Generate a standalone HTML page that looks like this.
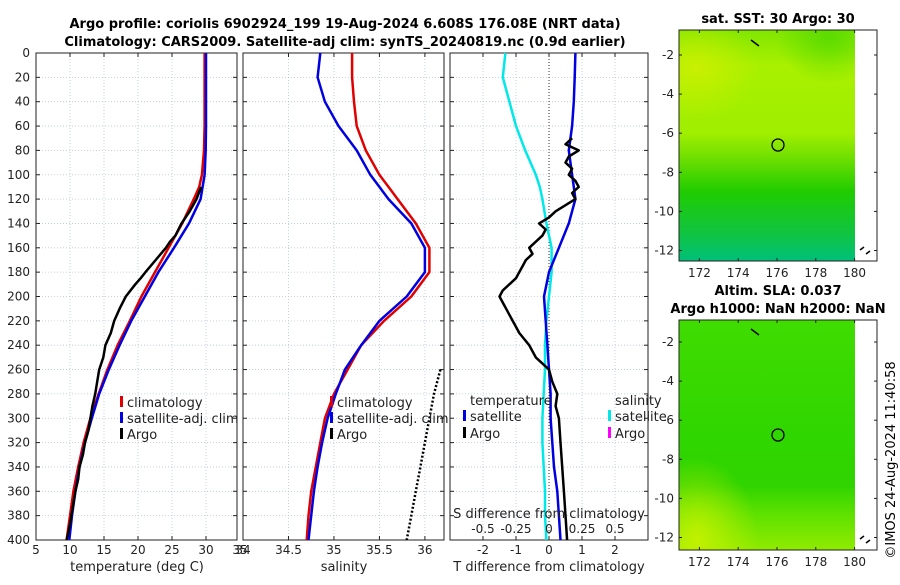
<!DOCTYPE html>
<html><head><meta charset="utf-8"><style>
body{margin:0;background:#fff;}
svg{font-family:"DejaVu Sans","Liberation Sans",sans-serif;}
</style></head><body>
<svg id="fig" width="900" height="580" viewBox="0 0 900 580" xmlns="http://www.w3.org/2000/svg">
<defs>
<linearGradient id="g1" x1="0" y1="0" x2="0" y2="1">
<stop offset="0" stop-color="#80e600"/><stop offset="0.15" stop-color="#a8f000"/><stop offset="0.45" stop-color="#a0ee00"/><stop offset="0.55" stop-color="#70e000"/><stop offset="0.7" stop-color="#20cc00"/><stop offset="0.88" stop-color="#10c440"/><stop offset="1" stop-color="#00c07a"/></linearGradient>
<radialGradient id="g1b" cx="0.1" cy="0.25" r="0.35"><stop offset="0" stop-color="#d0f000" stop-opacity="0.8"/><stop offset="1" stop-color="#d0f000" stop-opacity="0"/></radialGradient>
<radialGradient id="g1c" cx="0.85" cy="0.05" r="0.3"><stop offset="0" stop-color="#50d800" stop-opacity="0.8"/><stop offset="1" stop-color="#50d800" stop-opacity="0"/></radialGradient>
<linearGradient id="g2" x1="0" y1="0" x2="0" y2="1">
<stop offset="0" stop-color="#40dc00"/><stop offset="0.5" stop-color="#30d600"/><stop offset="0.72" stop-color="#30d400"/><stop offset="0.85" stop-color="#60e200"/><stop offset="1" stop-color="#90ea00"/></linearGradient>
<radialGradient id="g2b" cx="0.1" cy="0.95" r="0.35"><stop offset="0" stop-color="#c8f200" stop-opacity="0.9"/><stop offset="1" stop-color="#c8f200" stop-opacity="0"/></radialGradient>
</defs>
<g font-weight="bold" font-size="13" text-anchor="middle">
<text x="345" y="28">Argo profile: coriolis 6902924_199 19-Aug-2024 6.608S 176.08E (NRT data)</text>
<text x="345" y="46">Climatology: CARS2009. Satellite-adj clim: synTS_20240819.nc (0.9d earlier)</text>
</g>
<g id="plots"></g>
<g>
<text x="778" y="23" font-weight="bold" font-size="13" text-anchor="middle">sat. SST: 30 Argo: 30</text>
<rect x="679" y="30" width="176" height="231" fill="url(#g1)"/>
<rect x="679" y="30" width="176" height="150" fill="url(#g1b)"/>
<rect x="679" y="30" width="176" height="150" fill="url(#g1c)"/>
<rect x="679" y="30" width="198" height="231" fill="none" stroke="#222" stroke-width="1"/>
<circle cx="778" cy="145" r="6" fill="none" stroke="#000" stroke-width="1.3"/>
<path d="M751,40 l8,6 M860,250 l4,-3 M866,254 l4,-3" stroke="#000" stroke-width="1.5"/>
</g>
<g>
<text x="778" y="295" font-weight="bold" font-size="13" text-anchor="middle">Altim. SLA: 0.037</text>
<text x="778" y="313" font-weight="bold" font-size="13" text-anchor="middle">Argo h1000: NaN h2000: NaN</text>
<rect x="679" y="320" width="176" height="230" fill="url(#g2)"/>
<rect x="679" y="320" width="176" height="230" fill="url(#g2b)"/>
<rect x="679" y="320" width="198" height="230" fill="none" stroke="#222" stroke-width="1"/>
<circle cx="778" cy="435" r="6" fill="none" stroke="#000" stroke-width="1.3"/>
<path d="M751,329 l8,6 M860,539 l4,-3 M866,543 l4,-3" stroke="#000" stroke-width="1.5"/>
</g>
<g id="mapaxes"></g>
<text transform="translate(895,460) rotate(-90)" font-size="13" text-anchor="middle">©IMOS 24-Aug-2024 11:40:58</text>
</svg>
<script>
const depthTicks=[0,20,40,60,80,100,120,140,160,180,200,220,240,260,280,300,320,340,360,380,400];
const tempTicks=[5,10,15,20,25,30,35];
const salTicks=[34.5,35,35.5,36];
const salTickLabels=["34.5","35","35.5","36"];
const tdiffTicks=[-2,-1,0,1,2];
const sdiffTicks=[-0.5,-0.25,0,0.25,0.5];
const sdiffTickLabels=["-0.5","-0.25","0","0.25","0.5"];
const climDepth=[0,20,40,60,80,100,110,120,140,160,180,200,220,240,260,280,300,320,340,360,380,400];
const climTemp=[29.8,29.8,29.8,29.8,29.7,29.4,29.0,28.2,26.5,24.5,22.5,20.5,18.8,17.0,15.5,14.2,13.0,12.0,11.2,10.5,10.0,9.5];
const satTemp=[30,30,30,30,29.95,29.8,29.5,29.2,27.5,25.3,23.0,21.0,19.0,17.3,15.7,14.3,13.2,12.2,11.4,10.8,10.3,9.9];
const argoDepth=[110,120,130,140,150,155,160,170,180,185,190,200,210,220,230,240,250,260,270,280,290,300,310,320,330,340,350,360,370,380,390,400];
const argoTemp=[29.3,28.6,27.6,26.4,25.5,24.7,24.1,22.6,21.1,20.4,19.6,18.2,17.3,16.5,16.0,15.2,14.9,14.3,14.0,13.7,13.3,13.0,12.7,12.2,11.9,11.4,11.2,10.8,10.5,10.2,9.9,9.5];
const climSal=[35.2,35.2,35.22,35.25,35.35,35.5,35.6,35.7,35.9,36.05,36.05,35.85,35.55,35.3,35.15,35.0,34.9,34.85,34.8,34.75,34.72,34.7];
const satSal=[34.85,34.82,34.9,35.05,35.25,35.4,35.5,35.6,35.85,36.0,36.0,35.8,35.5,35.3,35.12,35.02,34.93,34.87,34.82,34.78,34.75,34.72];
const argoSalDepth=[260,280,300,320,340,360,380,400];
const argoSal=[36.17,36.1,36.05,36.0,35.95,35.9,35.85,35.8];
const satTdiff=[0.8,0.78,0.75,0.7,0.6,0.7,0.75,0.8,0.6,0.3,0.0,-0.15,-0.1,-0.05,0,0.05,0.05,0.1,0.15,0.25,0.3,0.35];
const satSdiff=[-0.33,-0.35,-0.3,-0.25,-0.18,-0.1,-0.07,-0.05,-0.02,0.02,0.02,0,-0.02,-0.03,-0.03,-0.04,-0.05,-0.05,-0.04,-0.03,-0.03,-0.02];
const argoTdiffDepth=[70,75,80,85,90,95,100,105,110,115,120,125,130,135,140,145,150,155,160,165,170,175,180,185,190,195,200,205,210,215,220,225,230,240,250,260,270,280,290,300,320,340,360,380,400];
const argoTdiff=[0.7,0.5,0.9,0.6,0.5,0.7,0.6,0.8,0.9,0.7,0.8,0.5,0.2,0.0,-0.3,-0.1,-0.2,-0.4,-0.6,-0.5,-0.7,-0.8,-0.9,-1.0,-1.2,-1.4,-1.5,-1.4,-1.3,-1.2,-1.1,-1.0,-0.9,-0.6,-0.4,0.0,0.1,0.25,0.2,0.3,0.35,0.4,0.45,0.5,0.55];
const lonTicks=[172,174,176,178,180];
const latTicks=[-2,-4,-6,-8,-10,-12];

const NS="http://www.w3.org/2000/svg";
const g=document.getElementById('plots');
function mk(tag,at,parent){const e=document.createElementNS(NS,tag);for(const k in at)e.setAttribute(k,at[k]);(parent||g).appendChild(e);return e;}
const Y0=53,Y1=540;
const yS=d=>Y0+d/400*(Y1-Y0);
const panels=[{x0:36,x1:237,sx1:240,lo:5,hi:35},{x0:243,x1:444,sx1:444,lo:34,hi:36.21},{x0:450,x1:648,sx1:648,lo:-3,hi:3}];
function xs(p,v){return p.x0+(v-p.lo)/(p.hi-p.lo)*(p.sx1-p.x0);}
const sP={x0:450,x1:648,sx1:648,lo:-0.75,hi:0.75};
function drawPanel(i,ticks,labels){
 const p=panels[i];
 const grp=mk('g',{});
 
 
 ticks.forEach(t=>{const x=xs(p,t);if(x<p.x1)mk('line',{x1:x,x2:x,y1:Y0,y2:Y1,stroke:'#b8c4dc','stroke-dasharray':'1,2','stroke-width':0.8},grp);});
 depthTicks.forEach(d=>{mk('line',{x1:p.x0,x2:p.x1,y1:yS(d),y2:yS(d),stroke:'#b8c4dc','stroke-dasharray':'1,2','stroke-width':0.8},grp);});
 mk('rect',{x:p.x0,y:Y0,width:p.x1-p.x0,height:Y1-Y0,fill:'none',stroke:'#222'},grp);
 ticks.forEach((t,j)=>{const x=xs(p,t);if(x<p.x1){mk('line',{x1:x,x2:x,y1:Y1,y2:Y1-4,stroke:'#222'},grp);mk('line',{x1:x,x2:x,y1:Y0,y2:Y0+4,stroke:'#222'},grp);}
  const tx=mk('text',{x:x,y:Y1+14,'font-size':12,'text-anchor':'middle',fill:'#222'},grp);tx.textContent=labels?labels[j]:String(t);});
 depthTicks.forEach(d=>{mk('line',{x1:p.x0,x2:p.x0+4,y1:yS(d),y2:yS(d),stroke:'#222'},grp);mk('line',{x1:p.x1,x2:p.x1-4,y1:yS(d),y2:yS(d),stroke:'#222'},grp);});
 return grp;
}
function line(pp,vals,deps,color,w,dash,name){
 const pts=vals.map((v,i)=>xs(pp,v).toFixed(1)+','+yS(deps[i]).toFixed(1)).join(' ');
 const e=mk('polyline',{points:pts,fill:'none',stroke:color,'stroke-width':w,'stroke-linejoin':'round'});
 if(dash)e.setAttribute('stroke-dasharray',dash);
 
 
}
function txt(x,y,s,size,anchor,name){const e=mk('text',{x:x,y:y,'font-size':size||13,'text-anchor':anchor||'start',fill:'#222'});e.textContent=s;return e;}
function leg(x,y,color,label,name){const r=mk('rect',{x:x,y:y-11,width:3,height:11,fill:color});txt(x+7,y,label,13,'start',name);}

drawPanel(0,tempTicks);
depthTicks.forEach(d=>{txt(30,yS(d)+4,String(d),12,'end','depth-tick-label');});
txt(137,571,'temperature (deg C)',13,'middle','x-axis-title-temperature');
line(panels[0],climTemp,climDepth,'#e00000',2.5,null,'temp-climatology-line');
line(panels[0],satTemp,climDepth,'#0000e0',2.5,null,'temp-satellite-line');
line(panels[0],argoTemp,argoDepth,'#000',2.5,null,'temp-argo-line');
leg(120,407,'#e00000','climatology','legend-climatology');
leg(120,423,'#0000e0','satellite-adj. clim','legend-satellite');
leg(120,439,'#000','Argo','legend-argo');

drawPanel(1,salTicks,salTickLabels);
txt(243,554,'34',12,'middle','sal-tick-34');
txt(344,571,'salinity',13,'middle','x-axis-title-salinity');
line(panels[1],climSal,climDepth,'#e00000',2.5,null,'sal-climatology-line');
line(panels[1],satSal,climDepth,'#0000e0',2.5,null,'sal-satellite-line');
line(panels[1],argoSal,argoSalDepth,'#000',2.5,'2,2','sal-argo-line');
leg(330,407,'#e00000','climatology','legend-sal-climatology');
leg(330,423,'#0000e0','satellite-adj. clim','legend-sal-satellite');
leg(330,439,'#000','Argo','legend-sal-argo');

drawPanel(2,tdiffTicks);
const zx=xs(panels[2],0);
const zl=mk('line',{x1:zx,x2:zx,y1:Y0,y2:Y1,stroke:'#333','stroke-dasharray':'1,2'});


line(sP,satSdiff,climDepth,'#00e8e8',2.5,null,'sdiff-satellite-line');
line(panels[2],satTdiff,climDepth,'#0000e0',2.5,null,'tdiff-satellite-line');
line(panels[2],argoTdiff,argoTdiffDepth,'#000',2.5,null,'tdiff-argo-line');
txt(549,571,'T difference from climatology',13,'middle','x-axis-title-tdiff');
txt(549,518,'S difference from climatology',13,'middle','s-diff-title');
sdiffTicks.forEach((t,j)=>{txt(xs(sP,t),533,sdiffTickLabels[j],12,'middle','sdiff-tick-label');});
txt(470,405,'temperature',13,'start','legend-temperature-header');
leg(463,421,'#0000e0','satellite','legend-tdiff-satellite');
leg(463,438,'#000','Argo','legend-tdiff-argo');
txt(615,405,'salinity',13,'start','legend-salinity-header');
leg(608,421,'#00e8e8','satellite','legend-sdiff-satellite');
leg(608,438,'#ff00ff','Argo','legend-sdiff-argo');

const ma=document.getElementById('mapaxes');
[[30,261],[320,550]].forEach(([top,bot],mi)=>{
 const lonX=l=>680+(l-171)*19.4;
 const latY=la=>(mi?342:55)+(-2-la)*19.55;
 lonTicks.forEach(l=>{const x=lonX(l);mk('line',{x1:x,x2:x,y1:bot,y2:bot-3,stroke:'#222'},ma);mk('line',{x1:x,x2:x,y1:top,y2:top+3,stroke:'#222'},ma);
  const t=mk('text',{x:x,y:bot+16,'font-size':12,'text-anchor':'middle',fill:'#222'},ma);t.textContent=String(l);});
 latTicks.forEach(la=>{const y=latY(la);mk('line',{x1:679,x2:682,y1:y,y2:y,stroke:'#222'},ma);mk('line',{x1:877,x2:874,y1:y,y2:y,stroke:'#222'},ma);
  const t=mk('text',{x:674,y:y+4,'font-size':12,'text-anchor':'end',fill:'#222'},ma);t.textContent=String(la);});
});
</script>
</body></html>
